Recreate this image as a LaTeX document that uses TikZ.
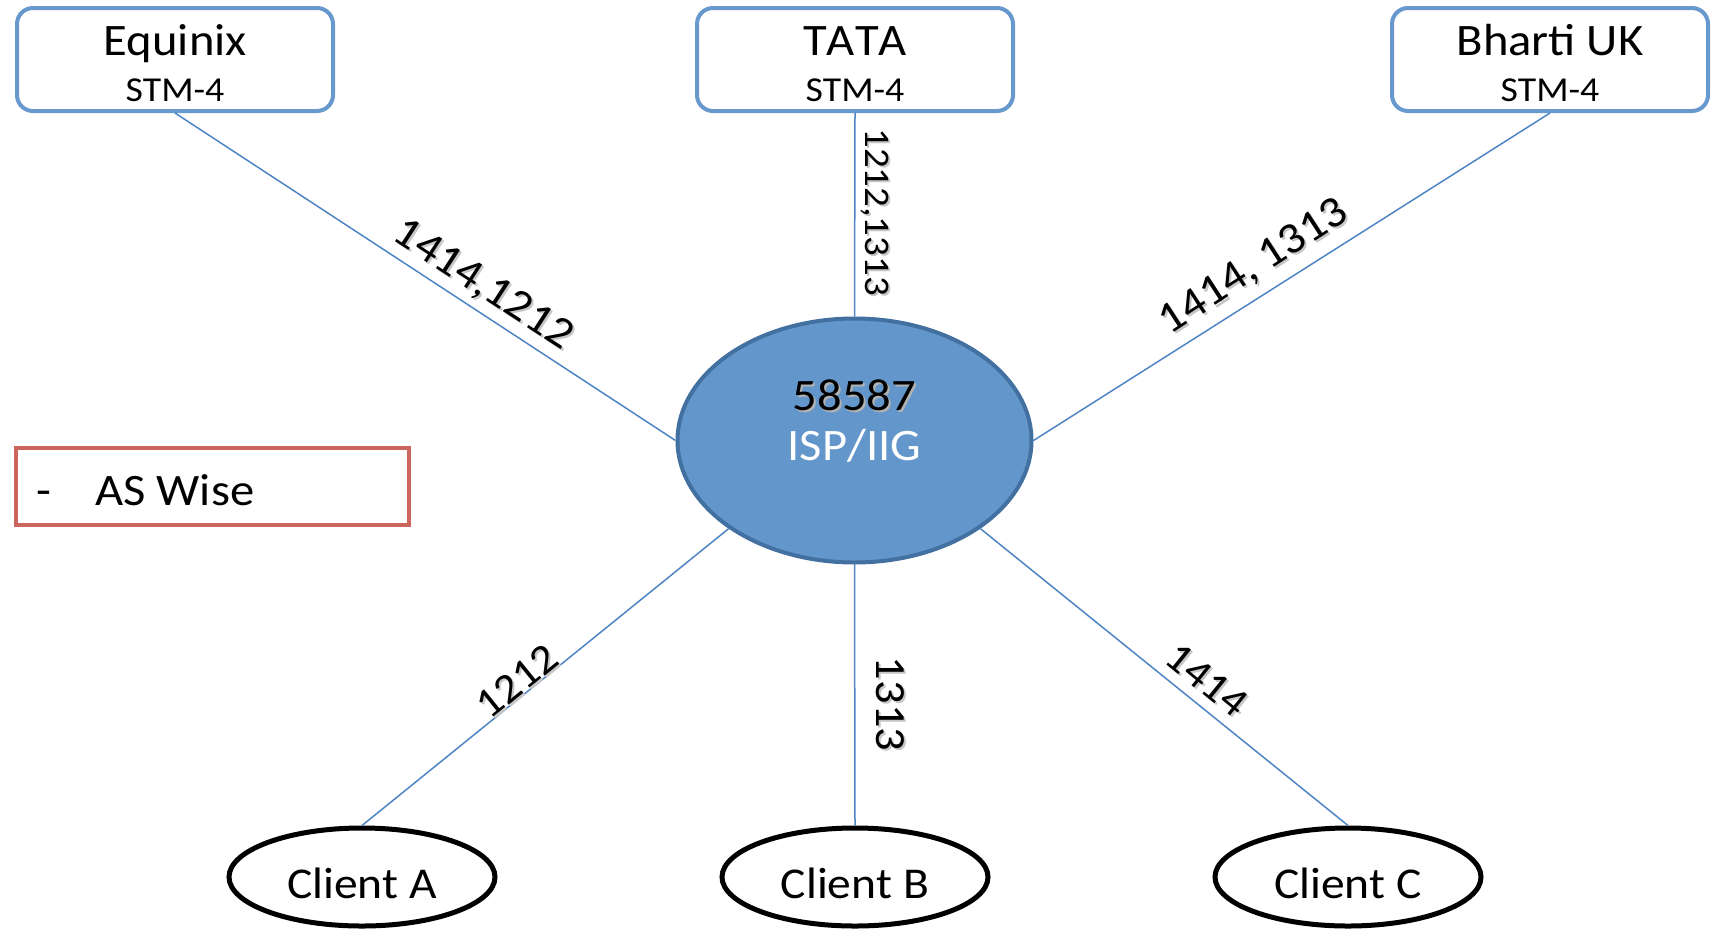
\documentclass[tikz,border=0pt]{standalone}
\usepackage{fontspec}
\setmainfont{Carlito}[FakeStretch=1.08,Kerning=Off]
\usetikzlibrary{shapes.geometric}
\definecolor{boxblue}{RGB}{104,153,206}
\definecolor{linkblue}{RGB}{79,133,196}
\definecolor{ispfill}{RGB}{99,151,203}
\definecolor{ispdraw}{RGB}{66,112,160}
\definecolor{asred}{RGB}{205,101,95}
\newcommand\fsz[1]{\fontsize{#1}{#1}\selectfont}
\newcommand\edgelbl[5]{%
  \node[text=black!22, rotate=#3, font=\fsz{#4}, inner sep=0pt] (#1s) at ([xshift=2pt,yshift=-2pt]#2) {#5};
  \node[text=black, rotate=#3, font=\fsz{#4}, inner sep=0pt] (#1) at (#2) {#5};
}
\begin{document}
\begin{tikzpicture}[x=1pt,y=-1pt,
  peer/.style={draw=boxblue, line width=4pt, rounded corners=16pt, minimum width=316pt, minimum height=103pt, inner sep=0pt, fill=white},
  client/.style={ellipse, draw=black, line width=5pt, fill=white, minimum width=266pt, minimum height=98pt, inner sep=0pt},
  isp/.style={ellipse, draw=ispdraw, line width=4pt, fill=ispfill, minimum width=354pt, minimum height=244pt, inner sep=0pt},
  link/.style={draw=linkblue, line width=1.5pt},
  big/.style={font=\fsz{45}, inner sep=0pt, anchor=base},
  small/.style={font=\fsz{35}, inner sep=0pt, anchor=base},
]
\useasboundingbox (0,0) rectangle (1720,937);
\fill[white] (0,0) rectangle (1720,937);

% peers
\node[peer] (eq) at (175,59.5) {};
\node[peer] (tata) at (855,59.5) {};
\node[peer] (bh) at (1550,59.5) {};
\node[big] (eqt) at (175,55) {Equinix};
\node[small] (eqs) at (175,101) {STM-4};
\node[big] (tatat) at (855,55) {TATA};
\node[small] (tatas) at (855,101) {STM-4};
\node[big] (bht) at (1550,55) {Bharti UK};
\node[small] (bhs) at (1550,101) {STM-4};

% ISP
\node[isp] (isp) at (854.5,440.5) {};
\node[font=\fsz{45}, inner sep=0pt, anchor=base, text=black!30] (ispns) at (856.5,412) {58587};
\node[font=\fsz{45}, inner sep=0pt, anchor=base] (ispn) at (854.5,410) {58587};
\node[font=\fsz{45}, inner sep=0pt, anchor=base, text=white] (ispt) at (854.5,460) {ISP/IIG};

% clients
\node[client] (ca) at (362,877) {};
\node[client] (cb) at (855,877) {};
\node[client] (cc) at (1348,877) {};
\node[font=\fsz{44}, inner sep=0pt, anchor=base] (cat) at (362,898) {Client A};
\node[font=\fsz{44}, inner sep=0pt, anchor=base] (cbt) at (855,898) {Client B};
\node[font=\fsz{44}, inner sep=0pt, anchor=base] (cct) at (1348,898) {Client C};

% links
\draw[link] (eq.south) -- (isp.west);
\draw[link] (tata.south) -- (isp.north);
\draw[link] (bh.south) -- (isp.east);
\draw[link] (isp.215) -- (ca.north);
\draw[link] (isp.south) -- (cb.north);
\draw[link] (isp.325) -- (cc.north);

% link labels
\edgelbl{l1}{483,285}{-33}{44}{1414,1212}
\edgelbl{l2}{875,212}{-90}{36}{1212,1313}
\edgelbl{l3}{1254,267}{33}{44}{1414, 1313}
\edgelbl{l4}{517,681}{39}{42}{1212}
\edgelbl{l5}{890,704}{-90}{43}{1313}
\edgelbl{l6}{1207,680}{-39}{42}{1414}

% AS wise box
\node[draw=asred, line width=4pt, minimum width=393pt, minimum height=77pt, inner sep=0pt] (as) at (212,486.5) {};
\node[font=\fsz{45}, inner sep=0pt, anchor=base west] (asd) at (36,505) {-};
\node[font=\fsz{45}, inner sep=0pt, anchor=base west] (ast) at (95,505) {AS Wise};
\end{tikzpicture}
\end{document}
